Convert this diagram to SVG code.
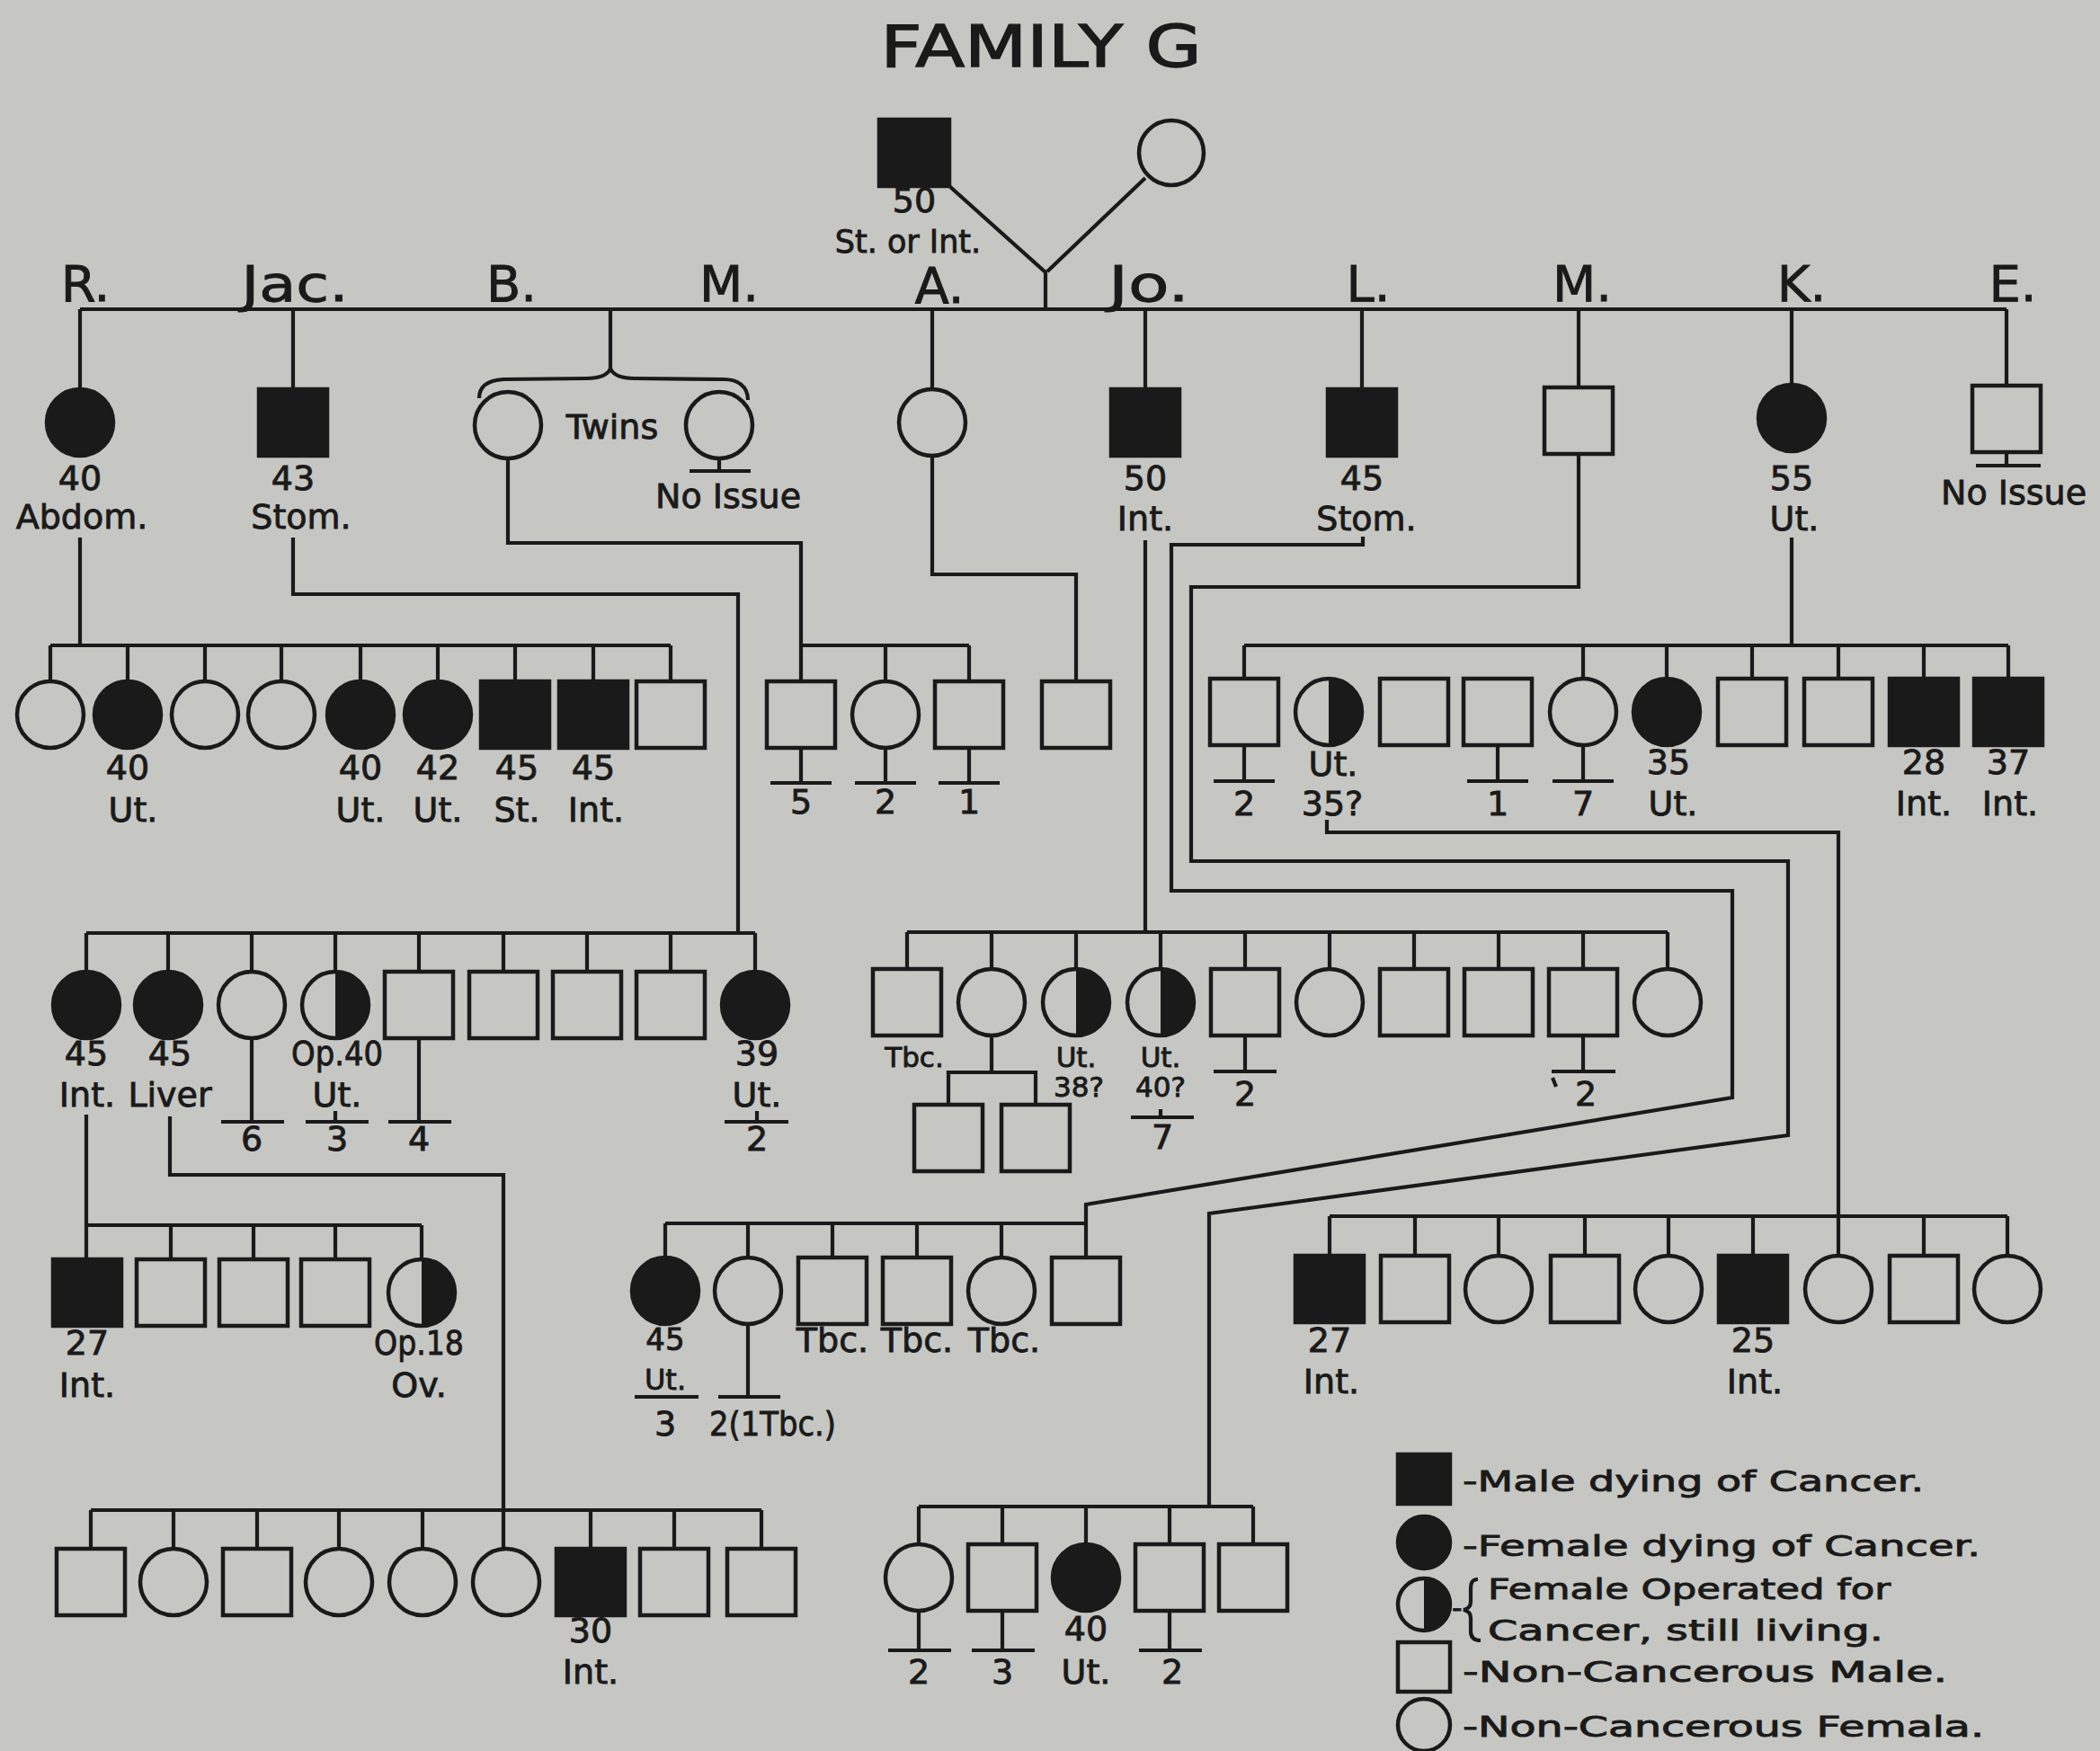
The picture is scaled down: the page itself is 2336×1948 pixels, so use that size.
<svg xmlns="http://www.w3.org/2000/svg" width="2336" height="1948" viewBox="0 0 2336 1948">
<style>
.o{fill:#c6c7c3;stroke:#1a1a1a;stroke-width:4.5}
.f{fill:#1a1a1a;stroke:#1a1a1a;stroke-width:4.5}
text{font-family:"DejaVu Sans","Liberation Sans",sans-serif;fill:#1a1a1a;stroke:#1a1a1a;stroke-width:0.9}
.t{font-size:38px;text-anchor:middle}
.s{font-size:31px;text-anchor:middle}
.g{font-size:56px;text-anchor:middle}
.lg{font-size:32px}
#connectors path{fill:none;stroke:#1a1a1a;stroke-width:4.2}
</style>
<defs>
<rect id="S" x="-38" y="-37" width="76" height="74"/>
<circle id="C" r="37"/>
<g id="H"><path d="M0,-37A37,37 0 0 1 0,37Z" fill="#1a1a1a"/><circle r="37" fill="none" stroke="#1a1a1a" stroke-width="4.5"/></g>
</defs>
<rect width="2336" height="1948" fill="#c6c7c3"/>
<text id="title" x="1158" y="74" font-size="64" text-anchor="middle" textLength="357" lengthAdjust="spacingAndGlyphs" style="stroke-width:1.4">FAMILY G</text>
<g id="gen-labels">
<text class="g" x="95" y="335">R.</text>
<text class="g" x="328" y="335" textLength="119" lengthAdjust="spacingAndGlyphs">Jac.</text>
<text class="g" x="569" y="335">B.</text>
<text class="g" x="811" y="335">M.</text>
<text class="g" x="1045" y="337">A.</text>
<text class="g" x="1278" y="335" textLength="90" lengthAdjust="spacingAndGlyphs">Jo.</text>
<text class="g" x="1522" y="335">L.</text>
<text class="g" x="1760" y="335">M.</text>
<text class="g" x="2004" y="335">K.</text>
<text class="g" x="2239" y="335">E.</text>
</g>
<g id="connectors">
<path d="M1056,207L1163,303V344M1274,198L1165,302"/>
<path d="M89,344H2232M89,344V433M326,344V433M679,344V410M1037,344V433M1274,344V433M1515,344V433M1756,344V431M1993,344V428M2232,344V429"/>
<path d="M533,443C533,429 544,423 560,422L652,421C668,421 676,417 679,410C682,417 690,421 706,421L805,422C821,422 832,430 832,445"/>
<path d="M800,510V524M767,524H835M2232,503V518M2198,518H2270"/>
<path d="M89,598V718M56,718H746M56,718V758M142,718V758M228,718V758M313,718V758M401,718V758M487,718V758M573,718V758M660,718V758M746,718V758"/>
<path d="M326,598V661H821V1038"/>
<path d="M565,510V604H891V758M891,718H1078M985,718V758M1078,718V758"/>
<path d="M891,832V871M857,871H925M985,832V871M951,871H1019M1078,832V871M1044,871H1112"/>
<path d="M1037,507V639H1197V758"/>
<path d="M1274,601V1037"/>
<path d="M1516,597V606H1303V991H1927V1221L1208,1340V1399"/>
<path d="M1756,505V653H1325V958H1989V1263L1345,1350V1676"/>
<path d="M1993,598V718M1384,718H2234M1384,718V755M1761,718V755M1854,718V755M1949,718V755M2045,718V755M2140,718V755M2234,718V755"/>
<path d="M1384,829V869M1350,869H1418M1666,829V869M1632,869H1700M1761,829V869M1727,869H1795"/>
<path d="M1476,912V926H2045V1397M1479,1353H2233M1479,1353V1397M1574,1353V1397M1667,1353V1397M1763,1353V1397M1856,1353V1397M1950,1353V1397M2140,1353V1397M2233,1353V1397"/>
<path d="M96,1038H840M96,1038V1081M187,1038V1081M280,1038V1081M373,1038V1081M466,1038V1081M560,1038V1081M653,1038V1081M746,1038V1081M840,1038V1081"/>
<path d="M280,1155V1248M246,1248H316M373,1236V1248M340,1248H410M466,1155V1248M432,1248H502M842,1236V1248M806,1248H877"/>
<path d="M96,1240V1401M97,1363H469M190,1363V1401M282,1363V1401M373,1363V1401M469,1363V1401"/>
<path d="M189,1242V1307H560V1723M101,1680H847M101,1680V1723M193,1680V1723M286,1680V1723M377,1680V1723M470,1680V1723M657,1680V1723M750,1680V1723M847,1680V1723"/>
<path d="M1009,1037H1855M1009,1037V1078M1103,1037V1078M1197,1037V1078M1291,1037V1078M1385,1037V1078M1479,1037V1078M1573,1037V1078M1667,1037V1078M1761,1037V1078M1855,1037V1078"/>
<path d="M1103,1152V1193M1055,1230V1193H1152V1230"/>
<path d="M1291,1234V1243M1258,1243H1328M1385,1152V1192M1350,1192H1420M1761,1152V1192M1726,1192H1797M1727,1199L1731,1209"/>
<path d="M740,1361H1208M740,1361V1399M832,1361V1399M926,1361V1399M1020,1361V1399M1114,1361V1399"/>
<path d="M706,1554H777M832,1473V1554M799,1554H868"/>
<path d="M1022,1676H1394M1022,1676V1718M1115,1676V1718M1208,1676V1718M1301,1676V1718M1394,1676V1718"/>
<path d="M1022,1792V1836M988,1836H1058M1115,1792V1836M1081,1836H1151M1301,1792V1836M1267,1836H1337"/>
<path d="M1644,1757C1636,1757 1636,1763 1636,1770V1782C1636,1787 1633,1790 1628,1791C1633,1792 1636,1795 1636,1800V1815C1636,1821 1639,1825 1647,1825"/>
</g>
<g id="n-father"><rect class="f" x="978" y="133" width="78" height="74"/><text class="t" x="1017" y="236">50</text><text class="t" x="1010" y="281" style="font-size:35px">St. or Int.</text></g>
<g id="n-mother"><circle class="o" cx="1303" cy="170" r="36"/></g>
<g id="n-R"><use href="#C" class="f" x="89" y="470"/><text class="t" x="89" y="545">40</text><text class="t" x="91" y="588">Abdom.</text></g>
<g id="n-Jac"><use href="#S" class="f" x="326" y="470"/><text class="t" x="326" y="545">43</text><text class="t" x="335" y="588">Stom.</text></g>
<g id="n-B"><use href="#C" class="o" x="565" y="473"/></g>
<g id="n-M1"><use href="#C" class="o" x="800" y="473"/><text class="t" x="810" y="565">No Issue</text></g>
<text class="t" x="681" y="488">Twins</text>
<g id="n-A"><use href="#C" class="o" x="1037" y="470"/></g>
<g id="n-Jo"><use href="#S" class="f" x="1274" y="470"/><text class="t" x="1274" y="545">50</text><text class="t" x="1274" y="590">Int.</text></g>
<g id="n-L"><use href="#S" class="f" x="1515" y="470"/><text class="t" x="1515" y="545">45</text><text class="t" x="1520" y="590">Stom.</text></g>
<g id="n-M2"><use href="#S" class="o" x="1756" y="468"/></g>
<g id="n-K"><use href="#C" class="f" x="1993" y="465"/><text class="t" x="1993" y="545">55</text><text class="t" x="1996" y="590">Ut.</text></g>
<g id="n-E"><use href="#S" class="o" x="2232" y="466"/><text class="t" x="2240" y="561">No Issue</text></g>
<g id="gen3-R">
<g id="r1"><use href="#C" class="o" x="56" y="795"/></g>
<g id="r2"><use href="#C" class="f" x="142" y="795"/><text class="t" x="142" y="867">40</text><text class="t" x="148" y="914">Ut.</text></g>
<g id="r3"><use href="#C" class="o" x="228" y="795"/></g>
<g id="r4"><use href="#C" class="o" x="313" y="795"/></g>
<g id="r5"><use href="#C" class="f" x="401" y="795"/><text class="t" x="401" y="867">40</text><text class="t" x="401" y="914">Ut.</text></g>
<g id="r6"><use href="#C" class="f" x="487" y="795"/><text class="t" x="487" y="867">42</text><text class="t" x="487" y="914">Ut.</text></g>
<g id="r7"><use href="#S" class="f" x="573" y="795"/><text class="t" x="575" y="867">45</text><text class="t" x="575" y="914">St.</text></g>
<g id="r8"><use href="#S" class="f" x="660" y="795"/><text class="t" x="660" y="867">45</text><text class="t" x="663" y="914">Int.</text></g>
<g id="r9"><use href="#S" class="o" x="746" y="795"/></g>
</g>
<g id="gen3-B">
<g id="b1"><use href="#S" class="o" x="891" y="795"/><text class="t" x="891" y="905">5</text></g>
<g id="b2"><use href="#C" class="o" x="985" y="795"/><text class="t" x="985" y="905">2</text></g>
<g id="b3"><use href="#S" class="o" x="1078" y="795"/><text class="t" x="1078" y="905">1</text></g>
</g>
<g id="a1"><use href="#S" class="o" x="1197" y="795"/></g>
<g id="gen3-K">
<g id="k1"><use href="#S" class="o" x="1384" y="792"/><text class="t" x="1384" y="907">2</text></g>
<g id="k2"><use href="#H" x="1478" y="792"/><text class="t" x="1483" y="863">Ut.</text><text class="t" x="1482" y="907">35?</text></g>
<g id="k3"><use href="#S" class="o" x="1573" y="792"/></g>
<g id="k4"><use href="#S" class="o" x="1666" y="792"/><text class="t" x="1666" y="907">1</text></g>
<g id="k5"><use href="#C" class="o" x="1761" y="792"/><text class="t" x="1761" y="907">7</text></g>
<g id="k6"><use href="#C" class="f" x="1854" y="792"/><text class="t" x="1856" y="861">35</text><text class="t" x="1861" y="907">Ut.</text></g>
<g id="k7"><use href="#S" class="o" x="1949" y="792"/></g>
<g id="k8"><use href="#S" class="o" x="2045" y="792"/></g>
<g id="k9"><use href="#S" class="f" x="2140" y="792"/><text class="t" x="2140" y="861">28</text><text class="t" x="2140" y="907">Int.</text></g>
<g id="k10"><use href="#S" class="f" x="2234" y="792"/><text class="t" x="2234" y="861">37</text><text class="t" x="2236" y="907">Int.</text></g>
</g>
<g id="gen4-left">
<g id="j1"><use href="#C" class="f" x="96" y="1118"/><text class="t" x="96" y="1185">45</text><text class="t" x="97" y="1231">Int.</text></g>
<g id="j2"><use href="#C" class="f" x="187" y="1118"/><text class="t" x="189" y="1185">45</text><text class="t" x="189" y="1231">Liver</text></g>
<g id="j3"><use href="#C" class="o" x="280" y="1118"/><text class="t" x="280" y="1280">6</text></g>
<g id="j4"><use href="#H" x="373" y="1118"/><text class="t" x="375" y="1185" textLength="102" lengthAdjust="spacingAndGlyphs">Op.40</text><text class="t" x="375" y="1231">Ut.</text><text class="t" x="375" y="1280">3</text></g>
<g id="j5"><use href="#S" class="o" x="466" y="1118"/><text class="t" x="466" y="1280">4</text></g>
<g id="j6"><use href="#S" class="o" x="560" y="1118"/></g>
<g id="j7"><use href="#S" class="o" x="653" y="1118"/></g>
<g id="j8"><use href="#S" class="o" x="746" y="1118"/></g>
<g id="j9"><use href="#C" class="f" x="840" y="1118"/><text class="t" x="842" y="1185">39</text><text class="t" x="842" y="1231">Ut.</text><text class="t" x="842" y="1280">2</text></g>
</g>
<g id="gen4-Jo">
<g id="o1"><use href="#S" class="o" x="1009" y="1115"/><text class="s" x="1017" y="1187">Tbc.</text></g>
<g id="o2"><use href="#C" class="o" x="1103" y="1115"/></g>
<g id="o2a"><use href="#S" class="o" x="1055" y="1266"/></g>
<g id="o2b"><use href="#S" class="o" x="1152" y="1266"/></g>
<g id="o3"><use href="#H" x="1197" y="1115"/><text class="s" x="1197" y="1187">Ut.</text><text class="s" x="1200" y="1220">38?</text></g>
<g id="o4"><use href="#H" x="1291" y="1115"/><text class="s" x="1291" y="1187">Ut.</text><text class="s" x="1291" y="1220">40?</text><text class="t" x="1293" y="1278">7</text></g>
<g id="o5"><use href="#S" class="o" x="1385" y="1115"/><text class="t" x="1385" y="1230">2</text></g>
<g id="o6"><use href="#C" class="o" x="1479" y="1115"/></g>
<g id="o7"><use href="#S" class="o" x="1573" y="1115"/></g>
<g id="o8"><use href="#S" class="o" x="1667" y="1115"/></g>
<g id="o9"><use href="#S" class="o" x="1761" y="1115"/><text class="t" x="1764" y="1230">2</text></g>
<g id="o10"><use href="#C" class="o" x="1855" y="1115"/></g>
</g>
<g id="gen5-left">
<g id="p1"><use href="#S" class="f" x="97" y="1438"/><text class="t" x="97" y="1507">27</text><text class="t" x="97" y="1554">Int.</text></g>
<g id="p2"><use href="#S" class="o" x="190" y="1438"/></g>
<g id="p3"><use href="#S" class="o" x="282" y="1438"/></g>
<g id="p4"><use href="#S" class="o" x="373" y="1438"/></g>
<g id="p5"><use href="#H" x="469" y="1438"/><text class="t" x="466" y="1507" textLength="100" lengthAdjust="spacingAndGlyphs">Op.18</text><text class="t" x="466" y="1554">Ov.</text></g>
</g>
<g id="gen5-L">
<g id="q1"><use href="#C" class="f" x="740" y="1436"/><text class="t" x="740" y="1502" style="font-size:34px">45</text><text class="t" x="740" y="1546" style="font-size:32px">Ut.</text><text class="t" x="740" y="1597">3</text></g>
<g id="q2"><use href="#C" class="o" x="832" y="1436"/><text class="t" x="789" y="1597" style="text-anchor:start" textLength="141" lengthAdjust="spacingAndGlyphs">2(1Tbc.)</text></g>
<g id="q3"><use href="#S" class="o" x="926" y="1436"/><text class="t" x="926" y="1504">Tbc.</text></g>
<g id="q4"><use href="#S" class="o" x="1020" y="1436"/><text class="t" x="1020" y="1504">Tbc.</text></g>
<g id="q5"><use href="#C" class="o" x="1114" y="1436"/><text class="t" x="1117" y="1504">Tbc.</text></g>
<g id="q6"><use href="#S" class="o" x="1208" y="1436"/></g>
</g>
<g id="gen5-right">
<g id="u1"><use href="#S" class="f" x="1479" y="1434"/><text class="t" x="1479" y="1504">27</text><text class="t" x="1481" y="1550">Int.</text></g>
<g id="u2"><use href="#S" class="o" x="1574" y="1434"/></g>
<g id="u3"><use href="#C" class="o" x="1667" y="1434"/></g>
<g id="u4"><use href="#S" class="o" x="1763" y="1434"/></g>
<g id="u5"><use href="#C" class="o" x="1856" y="1434"/></g>
<g id="u6"><use href="#S" class="f" x="1950" y="1434"/><text class="t" x="1950" y="1504">25</text><text class="t" x="1952" y="1550">Int.</text></g>
<g id="u7"><use href="#C" class="o" x="2045" y="1434"/></g>
<g id="u8"><use href="#S" class="o" x="2140" y="1434"/></g>
<g id="u9"><use href="#C" class="o" x="2233" y="1434"/></g>
</g>
<g id="gen6-left">
<g id="v1"><use href="#S" class="o" x="101" y="1760"/></g>
<g id="v2"><use href="#C" class="o" x="193" y="1760"/></g>
<g id="v3"><use href="#S" class="o" x="286" y="1760"/></g>
<g id="v4"><use href="#C" class="o" x="377" y="1760"/></g>
<g id="v5"><use href="#C" class="o" x="470" y="1760"/></g>
<g id="v6"><use href="#C" class="o" x="563" y="1760"/></g>
<g id="v7"><use href="#S" class="f" x="657" y="1760"/><text class="t" x="657" y="1827">30</text><text class="t" x="657" y="1873">Int.</text></g>
<g id="v8"><use href="#S" class="o" x="750" y="1760"/></g>
<g id="v9"><use href="#S" class="o" x="847" y="1760"/></g>
</g>
<g id="gen6-mid">
<g id="w1"><use href="#C" class="o" x="1022" y="1755"/><text class="t" x="1022" y="1873">2</text></g>
<g id="w2"><use href="#S" class="o" x="1115" y="1755"/><text class="t" x="1115" y="1873">3</text></g>
<g id="w3"><use href="#C" class="f" x="1208" y="1755"/><text class="t" x="1208" y="1825">40</text><text class="t" x="1208" y="1873">Ut.</text></g>
<g id="w4"><use href="#S" class="o" x="1301" y="1755"/><text class="t" x="1304" y="1873">2</text></g>
<g id="w5"><use href="#S" class="o" x="1394" y="1755"/></g>
</g>
<g id="legend">
<rect class="f" x="1555" y="1618" width="58" height="55"/>
<text class="lg" x="1627" y="1659" textLength="513" lengthAdjust="spacingAndGlyphs">-Male dying of Cancer.</text>
<circle class="f" cx="1584" cy="1716" r="29"/>
<text class="lg" x="1627" y="1731" textLength="576" lengthAdjust="spacingAndGlyphs">-Female dying of Cancer.</text>
<path d="M1584,1756A29,29 0 0 1 1584,1814Z" fill="#1a1a1a"/><circle cx="1584" cy="1785" r="29" fill="none" stroke="#1a1a1a" stroke-width="4.5"/>
<text class="lg" x="1615" y="1800">-</text>
<text class="lg" x="1655" y="1779" textLength="448" lengthAdjust="spacingAndGlyphs">Female Operated for</text>
<text class="lg" x="1655" y="1825" textLength="440" lengthAdjust="spacingAndGlyphs">Cancer, still living.</text>
<rect class="o" x="1555" y="1827" width="58" height="55"/>
<text class="lg" x="1627" y="1871" textLength="539" lengthAdjust="spacingAndGlyphs">-Non-Cancerous Male.</text>
<circle class="o" cx="1584" cy="1919" r="29"/>
<text class="lg" x="1627" y="1932" textLength="580" lengthAdjust="spacingAndGlyphs">-Non-Cancerous Femala.</text>
</g>
</svg>
